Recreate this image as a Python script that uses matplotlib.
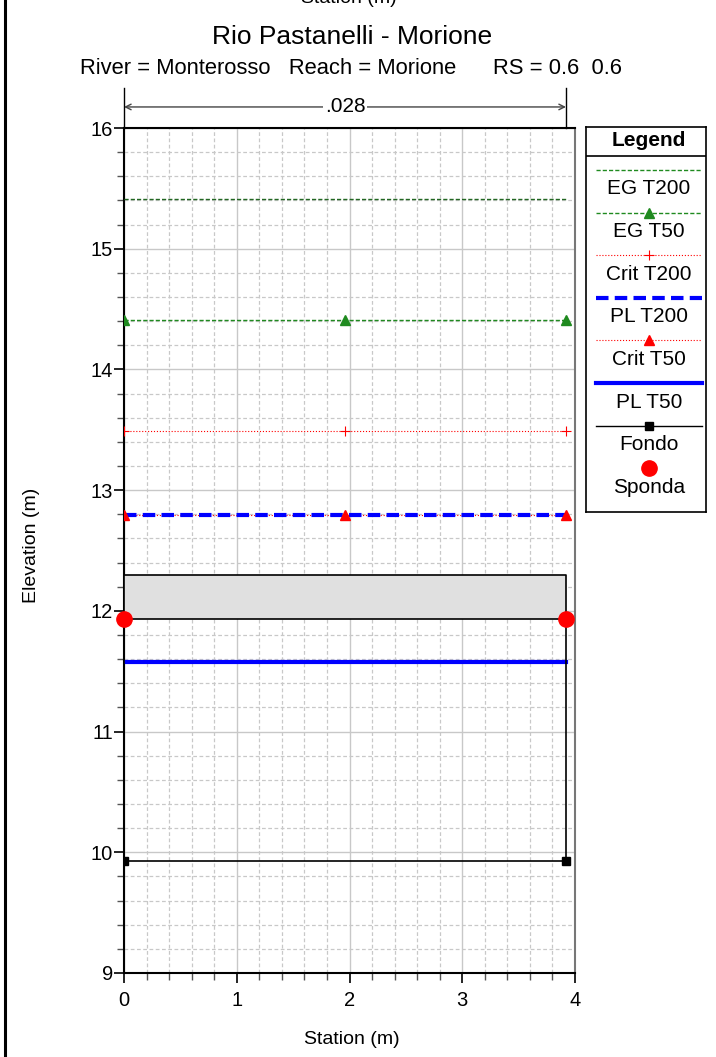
import numpy as np
import matplotlib.pyplot as plt
import matplotlib.transforms as mtransforms
from matplotlib.ticker import MultipleLocator

plt.rcParams['font.family'] = ['Liberation Sans', 'DejaVu Sans']

# stazioni dei profili (m)
sta = [0.0, 1.96, 3.92]

# quote pelo libero / energia (m)
eg_t200 = 15.41
eg_t50 = 14.41
crit_t200 = 13.49
pl_t200 = 12.79
crit_t50 = 12.79
pl_t50 = 11.58

# sezione
fondo_x = [0.0, 0.0, 3.92, 3.92]
fondo_y = [11.93, 9.93, 9.93, 11.93]
fondo_mk_x = [0.0, 3.92]
fondo_mk_y = [9.93, 9.93]
sponda_x = [0.0, 3.92]
sponda_y = [11.93, 11.93]
impalcato_x = [0.0, 3.92]
impalcato_lo = [11.93, 11.93]
impalcato_hi = [12.30, 12.30]
manning_n = '.028'

legend_labels = ['EG T200', 'EG T50', 'Crit T200', 'PL T200', 'Crit T50', 'PL T50', 'Fondo', 'Sponda']

W, H = 716, 1057
fig = plt.figure(figsize=(W / 100, H / 100), dpi=100)

def px(x0, y0, x1, y1):
    return [x0 / W, 1 - y1 / H, (x1 - x0) / W, (y1 - y0) / H]

ax = fig.add_axes(px(124, 128, 575, 973))

green = '#1f8a1f'
ax.plot(sta, [eg_t200] * 3, color='#226622', ls=(0, (3, 1.5)), lw=1, zorder=3)
ax.plot(sta, [eg_t50] * 3, color=green, ls=(0, (3, 1.5)), lw=1, marker='^', ms=7, zorder=3)
ax.plot(sta, [crit_t200] * 3, color='red', ls=':', lw=0.8, marker='+', ms=7, mew=0.8, zorder=3)
ax.plot(sta, [crit_t50] * 3, color='red', ls=':', lw=0.8, zorder=3)
ax.plot(sta, [pl_t200] * 3, color='blue', ls=(0, (3, 1.5)), lw=3, zorder=4)
ax.plot(sta, [crit_t50] * 3, color='red', ls='none', marker='^', ms=7, zorder=5)
ax.plot(sta, [pl_t50] * 3, color='blue', ls='-', lw=3, zorder=4)

ax.fill_between(impalcato_x, impalcato_lo, impalcato_hi, facecolor='#e0e0e0',
                edgecolor='black', lw=1.2, zorder=3)
ax.plot(fondo_x, fondo_y, color='black', lw=1.2, zorder=4)
ax.plot(fondo_mk_x, fondo_mk_y, color='black', ls='none', marker='s', ms=6, zorder=5)
ax.plot(sponda_x, sponda_y, color='red', ls='none', marker='o', ms=11, zorder=6, clip_on=False)

ax.set_xlim(0, 4)
ax.set_ylim(9, 16)
ax.xaxis.set_major_locator(MultipleLocator(1))
ax.xaxis.set_minor_locator(MultipleLocator(0.2))
ax.yaxis.set_major_locator(MultipleLocator(1))
ax.yaxis.set_minor_locator(MultipleLocator(0.2))
ax.grid(which='major', color='#c8c8c8', lw=1, ls='-', zorder=0)
ax.grid(which='minor', color='#c8c8c8', lw=0.9, ls=(0, (3, 2)), zorder=0)
ax.set_axisbelow(True)
ax.tick_params(which='major', direction='out', length=7, width=1.2, labelsize=14.5)
ax.tick_params(axis='y', which='major', pad=1)
ax.tick_params(axis='x', which='major', pad=6)
ax.tick_params(which='minor', direction='out', length=5, width=1, color='#555555')
for s in ['left', 'bottom', 'top']:
    ax.spines[s].set_linewidth(1.5)
ax.spines['right'].set_color('#777777')
ax.spines['right'].set_linewidth(1.5)

# n di Manning
tr = mtransforms.blended_transform_factory(ax.transData, ax.transAxes)
for xv in [sta[0], sta[-1]]:
    ax.plot([xv, xv], [1.0, 1.047], transform=tr, color='black', lw=1, clip_on=False)
ax.annotate('', xy=(sta[0], 1.0249), xytext=(sta[-1], 1.0249), xycoords=tr, textcoords=tr,
            arrowprops=dict(arrowstyle='<->', color='#444444', lw=1, shrinkA=0, shrinkB=0))
ax.text((sta[0] + sta[-1]) / 2, 1.0249, manning_n, transform=tr, ha='center', va='center',
        fontsize=15, bbox=dict(facecolor='white', edgecolor='none', pad=1))

fig.text(352 / W, 1 - 37 / H, 'Rio Pastanelli - Morione', ha='center', va='center', fontsize=19)
fig.text(351 / W, 1 - 68 / H, 'River = Monterosso   Reach = Morione      RS = 0.6  0.6',
         ha='center', va='center', fontsize=15.8)
fig.text(349 / W, 1 - 3 / H, 'Station (m)', ha='center', va='baseline', fontsize=14)
fig.text(32 / W, 1 - 545 / H, 'Elevation (m)', ha='center', va='center', rotation=90, fontsize=14)
fig.text(352 / W, 1 - 1040 / H, 'Station (m)', ha='center', va='center', fontsize=14)

# bordo sinistro
fig.add_artist(plt.Line2D([5 / W, 5 / W], [0, 1], color='black', lw=2.2))

# legenda
lg = fig.add_axes(px(586, 127, 706, 512))
lg.set_xlim(586, 706)
lg.set_ylim(512, 127)
lg.set_xticks([])
lg.set_yticks([])
for s in lg.spines.values():
    s.set_linewidth(1.2)
lg.text(649, 141, 'Legend', ha='center', va='center', fontsize=15, fontweight='bold')
lg.plot([586, 706], [156, 156], color='black', lw=1.2)
styles = [
    dict(color=green, ls=(0, (3, 1.5)), lw=1),
    dict(color=green, ls=(0, (3, 1.5)), lw=1, marker='^', ms=7),
    dict(color='red', ls=':', lw=0.8, marker='+', ms=7, mew=0.8),
    dict(color='blue', ls=(0, (3, 1.5)), lw=3),
    dict(color='red', ls=':', lw=0.8, marker='^', ms=7),
    dict(color='blue', ls='-', lw=3),
    dict(color='black', ls='-', lw=1, marker='s', ms=6),
    dict(color='red', ls='none', marker='o', ms=11),
]
for i, (lab, st) in enumerate(zip(legend_labels, styles)):
    y0 = 170 + i * 42.6
    if st.get('ls') == 'none':
        lg.plot([649], [y0], **st)
    else:
        lg.plot([596, 649, 702], [y0, y0, y0], markevery=[1], **st)
    lg.text(649, y0 + 19, lab, ha='center', va='center', fontsize=15)

fig.savefig('out.png', dpi=100)
